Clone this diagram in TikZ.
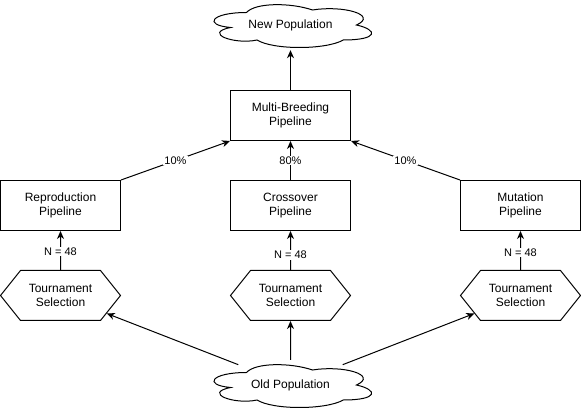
\documentclass[tikz,border=0pt]{standalone}
\usepackage{fontspec}
\setmainfont{Liberation Sans}
\usetikzlibrary{shapes.geometric,shapes.symbols,arrows.meta}
\newcommand{\dioCloud}[4]{%
  \draw[cloudline] ({#1+0.25*#3},{#2+0.25*#4})
    .. controls ({#1+0.05*#3},{#2+0.25*#4}) and ({#1},{#2+0.5*#4}) .. ({#1+0.16*#3},{#2+0.55*#4})
    .. controls ({#1},{#2+0.66*#4}) and ({#1+0.18*#3},{#2+0.9*#4}) .. ({#1+0.31*#3},{#2+0.8*#4})
    .. controls ({#1+0.4*#3},{#2+#4}) and ({#1+0.7*#3},{#2+#4}) .. ({#1+0.8*#3},{#2+0.8*#4})
    .. controls ({#1+#3},{#2+0.8*#4}) and ({#1+#3},{#2+0.6*#4}) .. ({#1+0.875*#3},{#2+0.5*#4})
    .. controls ({#1+#3},{#2+0.3*#4}) and ({#1+0.8*#3},{#2+0.1*#4}) .. ({#1+0.625*#3},{#2+0.2*#4})
    .. controls ({#1+0.5*#3},{#2+0.05*#4}) and ({#1+0.3*#3},{#2+0.05*#4}) .. cycle;}
\begin{document}
\begin{tikzpicture}[x=1pt,y=-1pt,
  every node/.style={font=\fontsize{12}{14.4}\selectfont},
  pbox/.style={draw, line width=1pt, minimum width=120pt, minimum height=50pt, inner sep=0pt, align=center},
  hexbox/.style={shape=signal, signal to=east and west, signal pointer angle=102.68, draw, line width=1pt, minimum width=120pt, minimum height=50pt, inner sep=0pt, align=center},
  cloudnode/.style={ellipse, minimum width=176pt, minimum height=50pt, inner sep=0pt},
  cloudline/.style={draw, line width=1pt},
  arr/.style={-{Stealth[length=8pt,width=7pt,inset=2.5pt]}, line width=1pt},
  lbl/.style={fill=white, inner sep=1pt, font=\fontsize{11}{13}\selectfont}]
\useasboundingbox (0,0) rectangle (581,411);
\node[cloudnode] (newpop) at (290.5,25) {New Population};
\dioCloud{202.5}{0}{176}{50}
\node[cloudnode] (oldpop) at (290.5,385) {Old Population};
\dioCloud{202.5}{360}{176}{50}
\node[pbox] (multi) at (290.5,115.5) {Multi-Breeding\\Pipeline};
\node[pbox] (repro) at (60.5,205.5) {Reproduction\\Pipeline};
\node[pbox] (cross) at (290.5,205.5) {Crossover\\Pipeline};
\node[pbox] (mut) at (520.5,205.5) {Mutation\\Pipeline};
\node[hexbox] (hexL) at (60.5,295.5) {Tournament\\Selection};
\node[hexbox] (hexC) at (290.5,295.5) {Tournament\\Selection};
\node[hexbox] (hexR) at (520.5,295.5) {Tournament\\Selection};
\draw[arr] (multi) -- (newpop);
\draw[arr] (repro.north east) -- node[lbl]{10\%} (multi.south west);
\draw[arr] (cross) -- node[lbl]{80\%} (multi);
\draw[arr] (mut.north west) -- node[lbl]{10\%} (multi.south east);
\draw[arr] (hexL) -- node[lbl,pos=0.475]{N = 48} (repro);
\draw[arr] (hexC) -- node[lbl,pos=0.39]{N = 48} (cross);
\draw[arr] (hexR) -- node[lbl,pos=0.45]{N = 48} (mut);
\draw[arr] (oldpop) -- (hexL);
\draw[arr] (oldpop) -- (hexC);
\draw[arr] (oldpop) -- (hexR);
\end{tikzpicture}
\end{document}
